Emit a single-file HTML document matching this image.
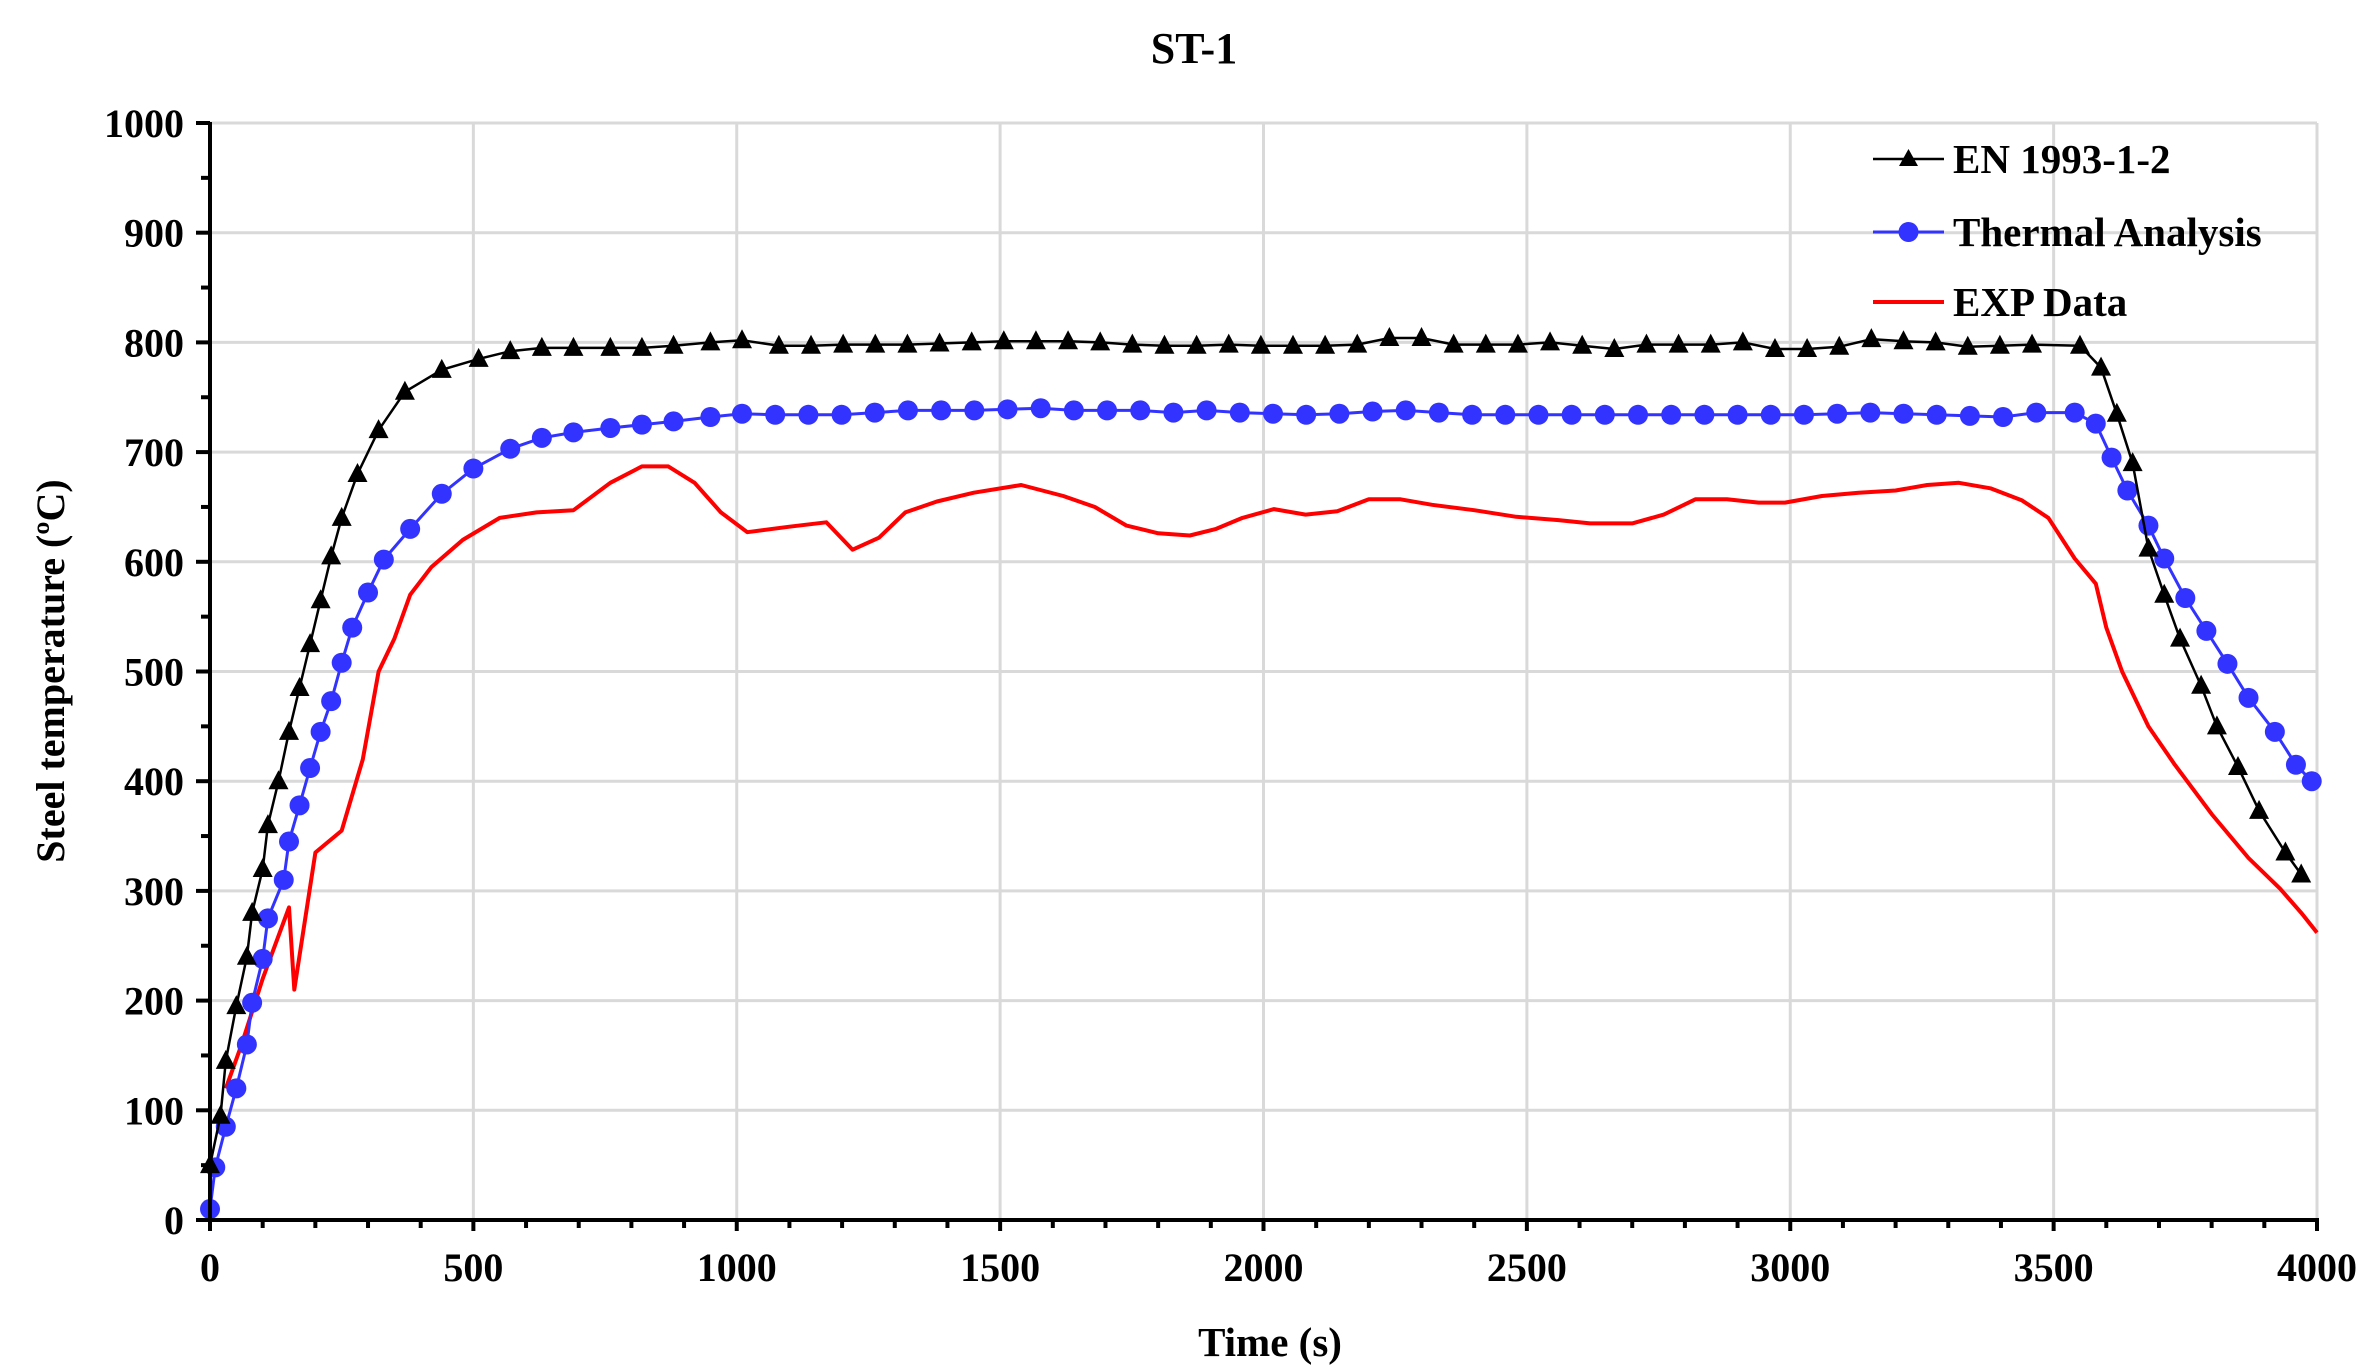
<!DOCTYPE html>
<html><head><meta charset="utf-8"><style>
html,body{margin:0;padding:0;background:#fff;}
svg{display:block;font-family:"Liberation Serif",serif;font-weight:bold;}
</style></head><body>
<svg id="s" width="2379" height="1371" xmlns="http://www.w3.org/2000/svg">
<text x="1194" y="63" font-size="44" text-anchor="middle">ST-1</text>
<g id="grid" stroke="#d9d9d9" stroke-width="3"></g>
<g id="ser"></g>
<g id="axes"></g>
<text x="1270" y="1356" font-size="41" text-anchor="middle">Time  (s)</text>
<text transform="translate(64,671) rotate(-90)" font-size="40" text-anchor="middle">Steel temperature  (ºC)</text>
<g font-size="41">
<line x1="1873" y1="159" x2="1944" y2="159" stroke="#000" stroke-width="2.5"/>
<polygon points="1908.5,149 1899,166 1918,166" fill="#000"/>
<text x="1953" y="173">EN 1993-1-2</text>
<line x1="1873" y1="232" x2="1944" y2="232" stroke="#3333ff" stroke-width="3"/>
<circle cx="1908.5" cy="232" r="10" fill="#3333ff"/>
<text x="1953" y="246">Thermal Analysis</text>
<line x1="1873" y1="302" x2="1944" y2="302" stroke="#ff0000" stroke-width="4"/>
<text x="1953" y="316">EXP Data</text>
</g>
</svg>
<script>
const NS="http://www.w3.org/2000/svg";
const X0=210,X1=2317,Y0=1220,Y1=123;
const fx=t=>X0+(X1-X0)*t/4000, fy=v=>Y0-(Y0-Y1)*v/1000;
function el(p,tag,a){const e=document.createElementNS(NS,tag);for(const k in a)e.setAttribute(k,a[k]);p.appendChild(e);return e;}
const g=document.getElementById('grid'),ax=document.getElementById('axes'),sr=document.getElementById('ser');
for(let t=500;t<=4000;t+=500)el(g,'line',{x1:fx(t),y1:Y0,x2:fx(t),y2:Y1});
for(let v=100;v<=1000;v+=100)el(g,'line',{x1:X0,y1:fy(v),x2:X1,y2:fy(v)});
el(ax,'line',{x1:X0,y1:Y1-1,x2:X0,y2:Y0+2,stroke:'#000','stroke-width':4});
el(ax,'line',{x1:X0-2,y1:Y0,x2:X1+2,y2:Y0,stroke:'#000','stroke-width':4});
for(let v=0;v<=1000;v+=50){const m=v%100==0;el(ax,'line',{x1:X0-(m?14:9),y1:fy(v),x2:X0,y2:fy(v),stroke:'#000','stroke-width':4});
 if(m){const t=el(ax,'text',{x:X0-26,y:fy(v)+14,'font-size':40,'text-anchor':'end'});t.textContent=v;}}
for(let t=0;t<=4000;t+=100){const m=t%500==0;el(ax,'line',{x1:fx(t),y1:Y0,x2:fx(t),y2:Y0+(m?11:8),stroke:'#000','stroke-width':4});
 if(m){const e=el(ax,'text',{x:fx(t),y:Y0+61,'font-size':40,'text-anchor':'middle'});e.textContent=t;}}
const exp=[[30,120],[60,160],[100,220],[150,285],[160,210],[200,335],[250,355],[290,420],[320,500],[350,530],[380,570],[420,595],[480,620],[550,640],[620,645],[690,647],[760,672],[820,687],[870,687],[920,672],[970,645],[1020,627],[1100,632],[1170,636],[1220,611],[1270,622],[1320,645],[1380,655],[1450,663],[1540,670],[1620,660],[1680,650],[1740,633],[1800,626],[1860,624],[1910,630],[1960,640],[2020,648],[2080,643],[2140,646],[2200,657],[2260,657],[2320,652],[2400,647],[2480,641],[2560,638],[2620,635],[2700,635],[2760,643],[2820,657],[2880,657],[2940,654],[2990,654],[3060,660],[3130,663],[3200,665],[3260,670],[3320,672],[3380,667],[3440,656],[3490,640],[3540,603],[3580,580],[3600,540],[3630,500],[3680,450],[3730,415],[3800,370],[3870,330],[3930,302],[3970,280],[4000,262]];
let en=[[0,50],[20,95],[30,145],[50,195],[70,240],[80,280],[100,320],[110,360],[130,400],[150,445],[170,485],[190,525],[210,565],[230,605],[250,640],[280,680],[320,720],[370,755],[440,775],[510,785],[570,792],[630,795],[690,795],[760,795],[820,795],[880,797],[950,800],[1010,802]];
const enMid=[797,797,798,798,798,799,800,801,801,801,800,798,797,797,798,797,797,797,798,804,804,798,798,798,800,797,794,798,798,798,800,794,794,796,803,801,800,796,797,798];
let t=1080;for(const v of enMid){en.push([t,v]);t+=61;} 
en=en.filter(p=>p[0]<3560);en.push([3550,797],[3590,777],[3620,735],[3650,690],[3680,612],[3710,570],[3740,530],[3780,487],[3810,450],[3850,413],[3890,373],[3940,335],[3970,315]);
let th=[[0,10],[10,48],[30,85],[50,120],[70,160],[80,198],[100,238],[110,275],[140,310],[150,345],[170,378],[190,412],[210,445],[230,473],[250,508],[270,540],[300,572],[330,602],[380,630],[440,662],[500,685],[570,703],[630,713],[690,718],[760,722],[820,725],[880,728],[950,732]];
const thMid=[735,734,734,734,736,738,738,738,739,740,738,738,738,736,738,736,735,734,735,737,738,736,734,734,734,734,734,734,734,734,734,734,734,735,736,735,734,733,732,736];
t=1010;for(const v of thMid){th.push([t,v]);t+=63;}
th=th.filter(p=>p[0]<3530);th.push([3540,736],[3580,726],[3610,695],[3640,665],[3680,633],[3710,603],[3750,567],[3790,537],[3830,507],[3870,476],[3920,445],[3960,415],[3990,400]);
const pts=a=>a.map(p=>fx(p[0]).toFixed(1)+','+fy(p[1]).toFixed(1)).join(' ');
el(sr,'polyline',{points:pts(exp),fill:'none',stroke:'#ff0000','stroke-width':4,'stroke-linejoin':'round'});
el(sr,'polyline',{points:pts(th),fill:'none',stroke:'#3333ff','stroke-width':3});
th.forEach(p=>el(sr,'circle',{cx:fx(p[0]),cy:fy(p[1]),r:10,fill:'#3333ff'}));
el(sr,'polyline',{points:pts(en),fill:'none',stroke:'#000','stroke-width':2.5});
en.forEach(p=>{const x=fx(p[0]),y=fy(p[1]);el(sr,'polygon',{points:`${x},${y-11} ${x-10},${y+8} ${x+10},${y+8}`,fill:'#000'});});
</script>
</body></html>
